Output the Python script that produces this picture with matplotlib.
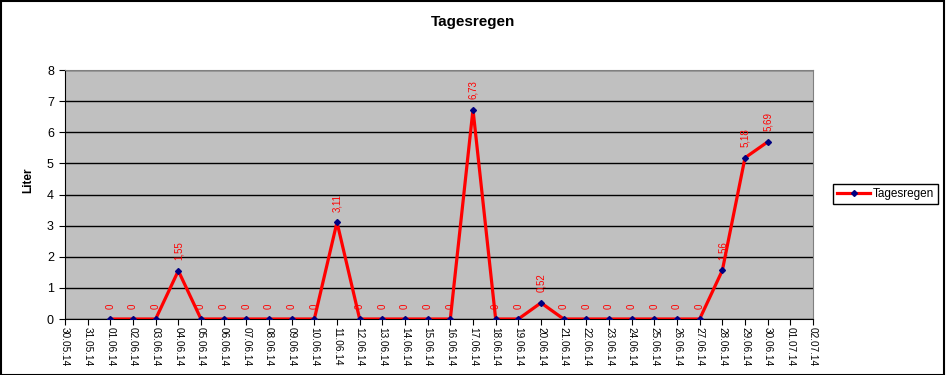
import numpy as np
import pandas as pd
import matplotlib
matplotlib.use("Agg")
import matplotlib.pyplot as plt
from matplotlib.patches import Rectangle

plt.rcParams['font.family'] = ['Liberation Sans', 'DejaVu Sans']

# Achse: 30.05.14 bis 02.07.14, Messwerte nur im Juni
achse = [d.strftime("%d.%m.%y") for d in pd.date_range("2014-05-30", "2014-07-02")]
tage = [d.strftime("%d.%m.%y") for d in pd.date_range("2014-06-01", "2014-06-30")]
regen = [0, 0, 0, 1.55, 0, 0, 0, 0, 0, 0,
         3.11, 0, 0, 0, 0, 0, 6.73, 0, 0, 0.52,
         0, 0, 0, 0, 0, 0, 0, 1.56, 5.18, 5.69]

x = [achse.index(t) for t in tage]

fig = plt.figure(figsize=(9.46, 3.75), dpi=100)
ax = fig.add_axes([0.0687, 0.1493, 0.7907, 0.664])
ax.set_facecolor("#C0C0C0")

ax.plot(x, regen, color="red", lw=2.3, marker="D", ms=3,
        mfc="#000080", mec="#000080", label="Tagesregen", zorder=3)

# Datenbeschriftungen über den Punkten
for xi, v in zip(x, regen):
    txt = ("%.2f" % v).replace(".", ",") if v != 0 else "0"
    ax.annotate(txt, (xi, v), xytext=(0, 7.5), textcoords="offset points",
                ha="center", va="bottom", rotation=90, color="red", fontsize=7)

ax.set_xlim(0, len(achse) - 1)
ax.set_ylim(0, 8)
ax.set_xticks(range(len(achse)))
ax.set_xticklabels(achse, rotation=-90, fontsize=7.2)
ax.set_yticks(range(0, 9))
ax.tick_params(axis="y", labelsize=9, length=4, direction="out", pad=4)
ax.tick_params(axis="x", length=4, direction="out", pad=2)
ax.yaxis.grid(True, color="black", lw=1)
ax.set_axisbelow(True)

ax.spines["left"].set_color("black")
ax.spines["bottom"].set_color("black")
ax.spines["top"].set_color("#808080")
ax.spines["right"].set_color("#808080")

fig.text(0.5, 0.941, "Tagesregen", ha="center", va="center", fontsize=11, fontweight="bold")
fig.text(0.0296, 0.519, "Liter", ha="center", va="center", rotation=90, fontsize=8.5, fontweight="bold")

leg = ax.legend(loc="upper left", bbox_to_anchor=(0.8805, 0.509), bbox_transform=fig.transFigure,
                fancybox=False, framealpha=1, edgecolor="black", fontsize=8.5,
                handlelength=2.8, borderpad=0.35, handletextpad=0.2, borderaxespad=0)
leg.get_frame().set_linewidth(1)

fig.patches.append(Rectangle((0.001, 0.001), 0.997, 0.996, transform=fig.transFigure,
                             fill=False, edgecolor="black", lw=1.5))

fig.savefig("out.png", dpi=100)
